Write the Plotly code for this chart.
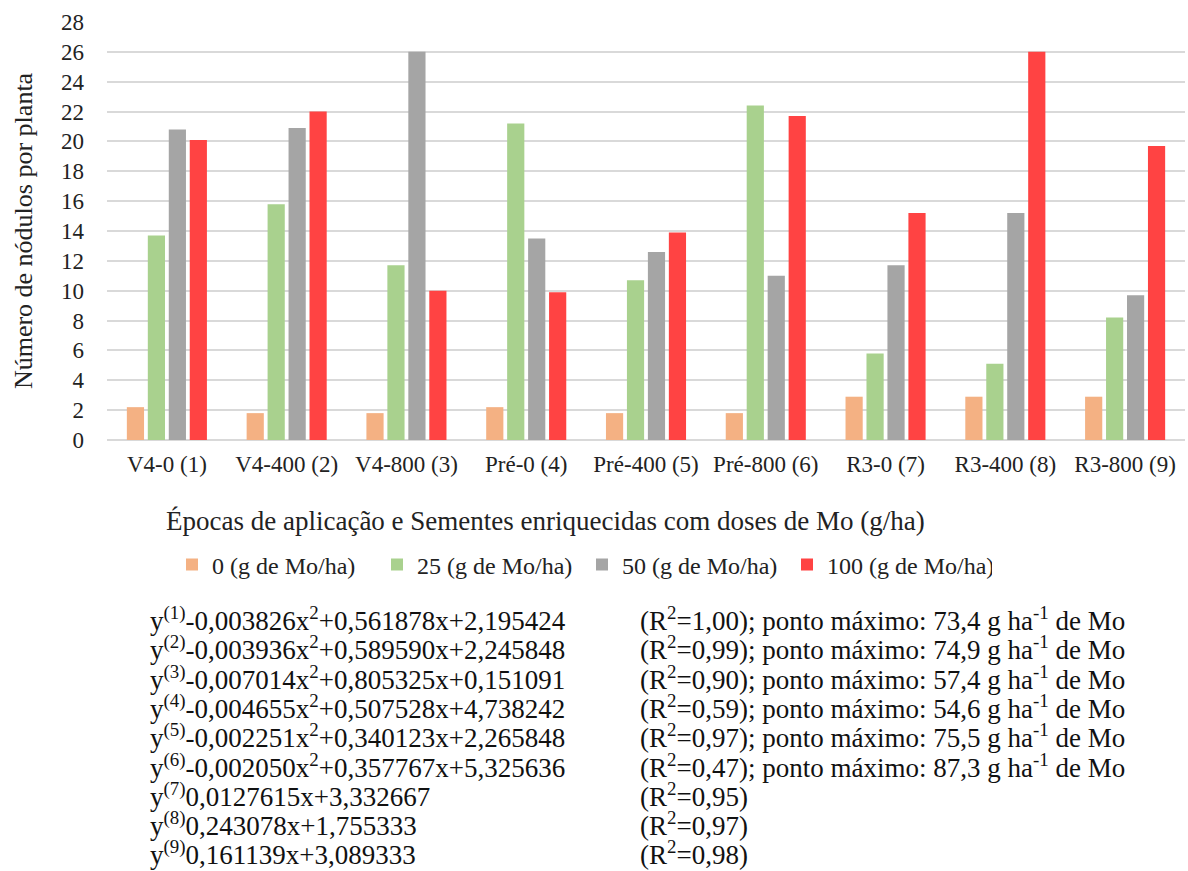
import plotly.graph_objects as go

# Treatments (application time - Mo-enriched seed dose)
categories = ["V4-0 (1)", "V4-400 (2)", "V4-800 (3)", "Pré-0 (4)", "Pré-400 (5)",
              "Pré-800 (6)", "R3-0 (7)", "R3-400 (8)", "R3-800 (9)"]

# Nodules per plant for each Mo dose
dose_0 = [2.2, 1.8, 1.8, 2.2, 1.8, 1.8, 2.9, 2.9, 2.9]
dose_25 = [13.7, 15.8, 11.7, 21.2, 10.7, 22.4, 5.8, 5.1, 8.2]
dose_50 = [20.8, 20.9, 26.0, 13.5, 12.6, 11.0, 11.7, 15.2, 9.7]
dose_100 = [20.1, 22.0, 10.0, 9.9, 13.9, 21.7, 15.2, 26.0, 19.7]

series_names = ["0 (g de Mo/ha)", "25 (g de Mo/ha)", "50 (g de Mo/ha)", "100 (g de Mo/ha)"]
series_colors = ["#F4B183", "#A9D18E", "#A5A5A5", "#FF4343"]

y_ticks = list(range(0, 29, 2))

x_title = "Épocas de aplicação e Sementes enriquecidas com doses de Mo (g/ha)"
y_title = "Número de nódulos por planta"

# Regression equations for each treatment
equations = [
    "y<sup>(1)</sup>-0,003826x<sup>2</sup>+0,561878x+2,195424",
    "y<sup>(2)</sup>-0,003936x<sup>2</sup>+0,589590x+2,245848",
    "y<sup>(3)</sup>-0,007014x<sup>2</sup>+0,805325x+0,151091",
    "y<sup>(4)</sup>-0,004655x<sup>2</sup>+0,507528x+4,738242",
    "y<sup>(5)</sup>-0,002251x<sup>2</sup>+0,340123x+2,265848",
    "y<sup>(6)</sup>-0,002050x<sup>2</sup>+0,357767x+5,325636",
    "y<sup>(7)</sup>0,0127615x+3,332667",
    "y<sup>(8)</sup>0,243078x+1,755333",
    "y<sup>(9)</sup>0,161139x+3,089333",
]
fit_stats = [
    "(R<sup>2</sup>=1,00); ponto máximo: 73,4 g ha<sup>-1</sup> de Mo",
    "(R<sup>2</sup>=0,99); ponto máximo: 74,9 g ha<sup>-1</sup> de Mo",
    "(R<sup>2</sup>=0,90); ponto máximo: 57,4 g ha<sup>-1</sup> de Mo",
    "(R<sup>2</sup>=0,59); ponto máximo: 54,6 g ha<sup>-1</sup> de Mo",
    "(R<sup>2</sup>=0,97); ponto máximo: 75,5 g ha<sup>-1</sup> de Mo",
    "(R<sup>2</sup>=0,47); ponto máximo: 87,3 g ha<sup>-1</sup> de Mo",
    "(R<sup>2</sup>=0,95)",
    "(R<sup>2</sup>=0,97)",
    "(R<sup>2</sup>=0,98)",
]

FONT = "Liberation Serif"
W, H = 1188, 871
M_L, M_R, M_T, M_B = 107, 3, 22, 431
plot_w = W - M_L - M_R
plot_h = H - M_T - M_B


def px_to_paper(px, py):
    return (px - M_L) / plot_w, (H - M_B - py) / plot_h


fig = go.Figure()
for name, color, vals in zip(series_names, series_colors, [dose_0, dose_25, dose_50, dose_100]):
    fig.add_trace(go.Bar(x=categories, y=vals, name=name,
                         marker=dict(color=color, line=dict(width=0))))

annotations = []

# x-axis title, centred under the text block rather than the plot area
tx, ty = px_to_paper(545, 521)
annotations.append(dict(x=tx, y=ty, xref="paper", yref="paper", text=x_title,
                        showarrow=False, xanchor="center", yanchor="middle",
                        font=dict(size=27, color="#222222", family=FONT)))

line_y0, line_step = 619, 29.3
for i, (eq, st) in enumerate(zip(equations, fit_stats)):
    py = line_y0 + i * line_step
    xa, ya = px_to_paper(148, py)
    annotations.append(dict(x=xa, y=ya, xref="paper", yref="paper", text=eq,
                            showarrow=False, xanchor="left", yanchor="middle",
                            font=dict(size=27, color="#111111", family=FONT)))
    xb, yb = px_to_paper(638, py)
    annotations.append(dict(x=xb, y=yb, xref="paper", yref="paper", text=st,
                            showarrow=False, xanchor="left", yanchor="middle",
                            font=dict(size=27, color="#111111", family=FONT)))

lx, ly = px_to_paper(172, 565)

fig.update_layout(
    width=W, height=H,
    margin=dict(l=M_L, r=M_R, t=M_T, b=M_B, autoexpand=False),
    paper_bgcolor="white", plot_bgcolor="white",
    font=dict(family=FONT, color="#222222", size=24),
    barmode="group", bargap=0.3, bargroupgap=0.18,
    showlegend=True,
    legend=dict(orientation="h", x=lx, y=ly, xanchor="left", yanchor="middle",
                font=dict(size=24, family=FONT, color="#222222"), entrywidth=160,
                itemwidth=30, traceorder="normal"),
    xaxis=dict(showgrid=False, showline=False, ticks="", tickfont=dict(size=23),
               ticklabelstandoff=8, automargin=False),
    yaxis=dict(range=[0, 28], tickvals=y_ticks, showgrid=True, gridcolor="#D9D9D9",
               gridwidth=1.5, zeroline=True, zerolinecolor="#D9D9D9", zerolinewidth=1.5,
               showline=False, ticks="", tickfont=dict(size=23), ticklabelstandoff=22,
               title=dict(text=y_title, font=dict(size=26), standoff=20),
               automargin=False),
    annotations=annotations,
)

fig.write_html("out.html")
